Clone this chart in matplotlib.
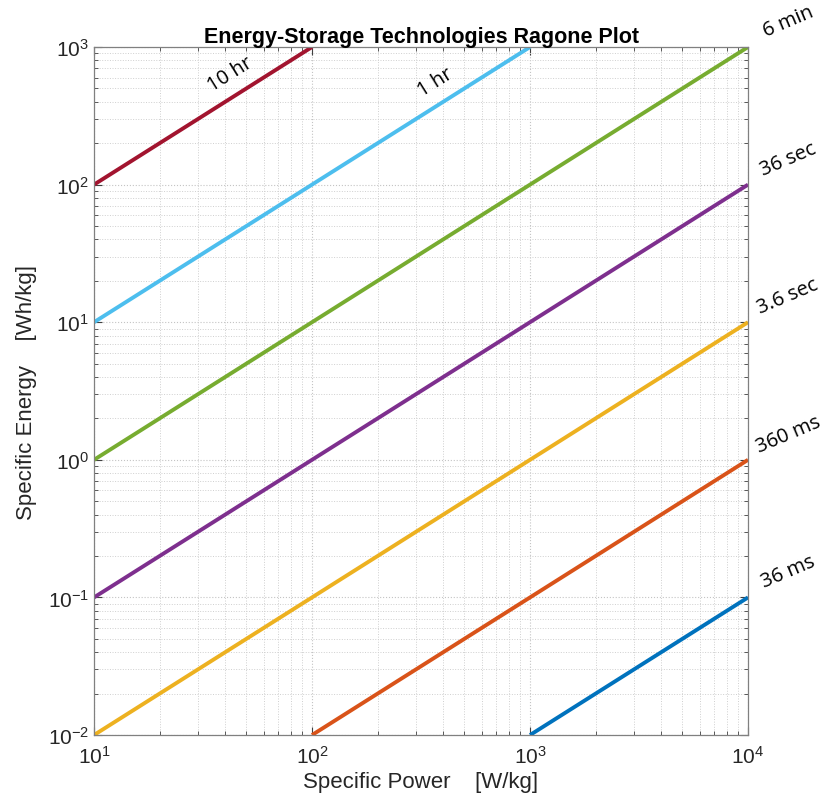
import numpy as np
import matplotlib
matplotlib.use('Agg')
import matplotlib.pyplot as plt

# discharge times (hours) and the specific power where each line starts
t_hours = [10.0, 1.0, 0.1, 0.01, 0.001, 1e-4, 1e-5]
p_start = [10.0, 10.0, 10.0, 10.0, 10.0, 100.0, 1000.0]
p_end = [100.0, 1000.0, 1e4, 1e4, 1e4, 1e4, 1e4]
colors = ['#A2142F', '#4DBEEE', '#77AC30', '#7E2F8E', '#EDB120', '#D95319', '#0072BD']

# labels along the line (inside) and at the right end (outside)
inner_labels = {0: ('10 hr', 42.0), 1: ('1 hr', 366.0)}
right_labels = {2: '6 min', 3: '36 sec', 4: '3.6 sec', 5: '360 ms', 6: '36 ms'}

matplotlib.rcParams['font.family'] = ['Liberation Sans', 'DejaVu Sans']
matplotlib.rcParams['mathtext.fontset'] = 'custom'
matplotlib.rcParams['mathtext.rm'] = 'Liberation Sans'

fig = plt.figure(figsize=(8.37, 8.03), dpi=100)
ax = fig.add_axes([0.1123, 0.0834, 0.7814, 0.8568])

for i in range(len(t_hours)):
    P = np.array([p_start[i], p_end[i]])
    E = P * t_hours[i]
    ax.plot(P, E, '-', color=colors[i], linewidth=2.8, solid_capstyle='butt')

ax.set_xscale('log')
ax.set_yscale('log')
ax.set_xlim(10, 1e4)
ax.set_ylim(1e-2, 1e3)

ax.grid(True, which='major', color='#c4c4c4', linestyle=':', linewidth=0.8)
ax.grid(True, which='minor', color='#cfcfcf', linestyle=':', linewidth=0.7)
ax.tick_params(which='both', direction='in', top=True, right=True, colors='#404040',
               labelcolor='#262626', labelsize=15)
ax.tick_params(which='major', length=6)
ax.tick_params(which='minor', length=3)
for s in ax.spines.values():
    s.set_color('#808080')
    s.set_linewidth(0.9)
ax.tick_params(axis='x', pad=7)

ax.set_title('Energy-Storage Technologies Ragone Plot', fontsize=15.5, fontweight='bold', pad=3)
ax.set_xlabel('Specific Power    [W/kg]', fontsize=16, color='#262626', labelpad=3)
ax.set_ylabel('Specific Energy    [Wh/kg]', fontsize=16, color='#262626', labelpad=8)

for i, (txt, p) in inner_labels.items():
    ax.annotate(txt, xy=(p, p * t_hours[i]), xytext=(0, 25), textcoords='offset pixels',
                ha='center', va='center', rotation=32, fontsize=14.5,
                family=['Open Sans', 'DejaVu Sans'])

for i, txt in right_labels.items():
    ax.annotate(txt, xy=(p_end[i], p_end[i] * t_hours[i]), xytext=(40, 26),
                textcoords='offset pixels', ha='center', va='center', rotation=23,
                fontsize=14.5, family=['Open Sans', 'DejaVu Sans'], annotation_clip=False)

fig.savefig('out.png', dpi=100)
